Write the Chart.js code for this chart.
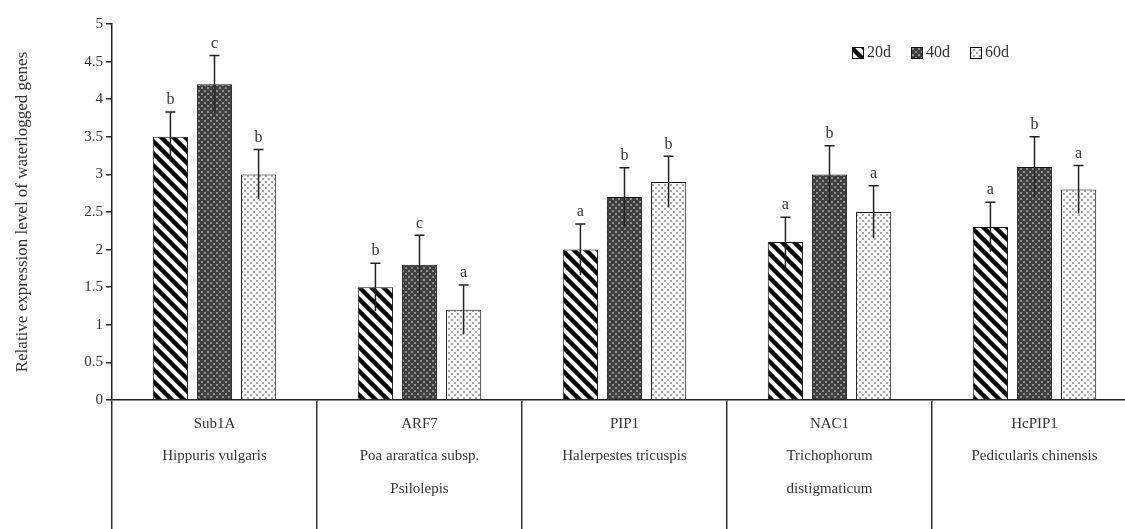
<!DOCTYPE html>
<html>
<head>
<meta charset="utf-8">
<script src="https://cdn.jsdelivr.net/npm/chart.js@4.4.0/dist/chart.umd.min.js"></script>
<style>
    html, body { margin: 0; padding: 0; background: #fff; overflow: hidden; }
    #wrap { width: 1140px; height: 529px; }
</style>
</head>
<body>
<div id="wrap"><canvas id="exprChart" width="1140" height="529"></canvas></div>
<script>
// data
const genes = ['Sub1A', 'ARF7', 'PIP1', 'NAC1', 'HcPIP1'];
const species = [
    ['Hippuris vulgaris'],
    ['Poa araratica subsp.', 'Psilolepis'],
    ['Halerpestes tricuspis'],
    ['Trichophorum', 'distigmaticum'],
    ['Pedicularis chinensis']
];
const seriesNames = ['20d', '40d', '60d'];
const values20 = [3.5, 1.5, 2.0, 2.1, 2.3];
const values40 = [4.2, 1.8, 2.7, 3.0, 3.1];
const values60 = [3.0, 1.2, 2.9, 2.5, 2.8];
const errors20 = [0.33, 0.32, 0.34, 0.33, 0.33];
const errors40 = [0.38, 0.39, 0.39, 0.38, 0.40];
const errors60 = [0.33, 0.33, 0.34, 0.35, 0.32];
const letters20 = ['b', 'b', 'a', 'a', 'a'];
const letters40 = ['c', 'c', 'b', 'b', 'b'];
const letters60 = ['b', 'a', 'b', 'a', 'a'];

const serif = 'Liberation Serif';

// fill patterns
function makePattern(kind) {
    const c = document.createElement('canvas');
    const g = c.getContext('2d');
    if (kind === 'stripe') {
        const s = 12;
        c.width = s; c.height = s;
        g.fillStyle = '#fff';
        g.fillRect(0, 0, s, s);
        g.strokeStyle = '#000';
        g.lineWidth = 4.4;
        g.beginPath();
        for (let k = -1; k <= 1; k++) {
            g.moveTo(k * s - 2, -2);
            g.lineTo(k * s + s + 2, s + 2);
        }
        g.stroke();
    } else if (kind === 'dark') {
        c.width = 6; c.height = 6;
        g.fillStyle = '#404040';
        g.fillRect(0, 0, 6, 6);
        g.fillStyle = '#909090';
        g.fillRect(0, 0, 2, 2);
        g.fillRect(3, 3, 2, 2);
    } else {
        c.width = 6; c.height = 6;
        g.fillStyle = '#f6f6f6';
        g.fillRect(0, 0, 6, 6);
        g.fillStyle = '#a4a4a4';
        g.fillRect(1, 1, 2, 2);
        g.fillRect(4, 4, 2, 2);
    }
    return g.createPattern(c, 'repeat');
}

const errorBars = {
    id: 'errorBars',
    afterDatasetsDraw(chart) {
        const ctx = chart.ctx;
        const y = chart.scales.y;
        ctx.save();
        chart.data.datasets.forEach((ds, i) => {
            chart.getDatasetMeta(i).data.forEach((bar, j) => {
                const v = ds.data[j], e = ds.errors[j];
                const top = y.getPixelForValue(v + e);
                const bot = y.getPixelForValue(v - e);
                ctx.strokeStyle = '#222';
                ctx.lineWidth = 1.5;
                ctx.beginPath();
                ctx.moveTo(bar.x, top);
                ctx.lineTo(bar.x, bot);
                ctx.moveTo(bar.x - 5, top);
                ctx.lineTo(bar.x + 5, top);
                ctx.stroke();
                ctx.fillStyle = '#333';
                ctx.font = '16px "' + serif + '"';
                ctx.textAlign = 'center';
                ctx.textBaseline = 'middle';
                ctx.fillText(ds.letters[j], bar.x, top - 12);
            });
        });
        ctx.restore();
    }
};

const boxLegend = {
    id: 'boxLegend',
    afterDraw(chart) {
        const ctx = chart.ctx;
        let x = 852;
        const yc = 53;
        ctx.save();
        chart.data.datasets.forEach(ds => {
            ctx.fillStyle = ds.backgroundColor;
            ctx.fillRect(x, yc - 6, 12, 12);
            ctx.strokeStyle = '#111';
            ctx.lineWidth = 1;
            ctx.strokeRect(x + 0.5, yc - 5.5, 11, 11);
            ctx.fillStyle = '#333';
            ctx.font = '16px "' + serif + '"';
            ctx.textAlign = 'left';
            ctx.textBaseline = 'middle';
            ctx.fillText(ds.label, x + 15, yc);
            x += 59;
        });
        ctx.restore();
    }
};

const ctx = document.getElementById('exprChart').getContext('2d');
const exprChart = new Chart(ctx, {
    type: 'bar',
    data: {
        labels: genes,
        datasets: [
            { label: seriesNames[0], data: values20, errors: errors20, letters: letters20, backgroundColor: makePattern('stripe') },
            { label: seriesNames[1], data: values40, errors: errors40, letters: letters40, backgroundColor: makePattern('dark') },
            { label: seriesNames[2], data: values60, errors: errors60, letters: letters60, backgroundColor: makePattern('light') }
        ].map(ds => Object.assign(ds, {
            borderColor: '#111',
            borderWidth: 1,
            barPercentage: 0.8,
            categoryPercentage: 0.645
        }))
    },
    options: {
        responsive: false,
        animation: false,
        layout: { padding: { top: 24, right: 3, left: 0, bottom: 0 } },
        plugins: {
            legend: { display: false },
            tooltip: { enabled: false }
        },
        scales: {
            x: {
                grid: {
                    offset: true,
                    drawOnChartArea: false,
                    drawTicks: true,
                    tickLength: 129,
                    color: '#333',
                    lineWidth: 1.5
                },
                border: { display: true, color: '#222', width: 1.5 },
                ticks: {
                    padding: -121,
                    maxRotation: 0,
                    autoSkip: false,
                    color: '#333',
                    font: { family: serif, size: 15, lineHeight: 2.15 },
                    callback: (v, i) => [genes[i]].concat(species[i])
                },
                afterFit(scale) { scale.height = 129; }
            },
            y: {
                min: 0,
                max: 5,
                ticks: {
                    stepSize: 0.5,
                    padding: 3,
                    color: '#333',
                    font: { family: serif, size: 15 },
                    callback: v => String(Number(v.toFixed(1)))
                },
                grid: { drawOnChartArea: false, tickLength: 6, color: '#222', lineWidth: 1.5 },
                border: { color: '#222', width: 1.5 },
                title: {
                    display: true,
                    text: 'Relative expression level of waterlogged genes',
                    color: '#333',
                    font: { family: serif, size: 17 },
                    padding: { top: 12, bottom: 0 }
                },
                afterFit(scale) { scale.width = 112; }
            }
        }
    },
    plugins: [errorBars, boxLegend]
});
</script>
</body>
</html>
